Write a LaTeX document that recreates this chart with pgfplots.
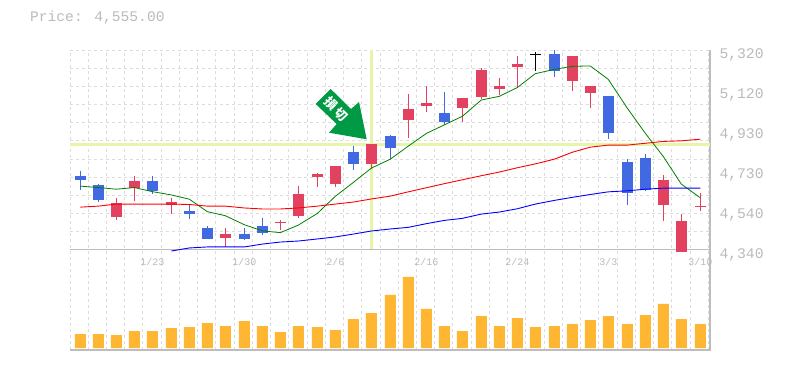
\documentclass[border=0pt]{standalone}
\usepackage{pgfplots}
\pgfplotsset{compat=1.18}
\usepackage{fontspec}
\setmainfont{Liberation Mono}
\newfontfamily\cjk{Noto Sans CJK JP}
\definecolor{txtgray}{HTML}{BBBBBB}
\definecolor{axgray}{HTML}{BDBDBD}
\definecolor{gridgray}{HTML}{DCDCDC}
\definecolor{hair}{HTML}{E5F6AB}
\definecolor{candred}{HTML}{E2425F}
\definecolor{candblue}{HTML}{4169E1}
\definecolor{volbar}{HTML}{FFB733}
\definecolor{arrowg}{HTML}{009944}
\definecolor{lineg}{HTML}{008000}
\begin{document}
\begin{tikzpicture}[x=1pt,y=1pt]
\path[fill=white] (0,0) rectangle (785,370);
% volume panel, carrying the vertical grid over the whole plot height
\begin{axis}[name=vol,at={(70pt,20pt)},anchor=south west,scale only axis,width=640pt,height=300pt,
  xmin=70,xmax=710,ymin=-2,ymax=298,
  axis line style={draw=none},
  ytick=\empty,
  xtick={70.3,88.3,106.3,124.3,142.7,161.3,179.3,197.3,215.3,234.3,252.3,270.3,288.3,307.3,325.3,343.3,361.3,380.3,398.3,416.3,434.3,452.3,471.3,489.3,507.3,525.3,544.3,562.3,580.3,598.3,617.3,635.3,653.3,671.3,690.3,708.3},
  xticklabels={},
  major tick length=0pt,
  xmajorgrids=true,
  major grid style={draw=gridgray,line width=1pt,dash pattern=on 3pt off 3pt},
  clip=false]
\addplot[ybar,bar width=11pt,fill=volbar,draw=none] coordinates {
(80.3,14)(98.3,14)(116.3,13)(134.3,17)(152.3,17)(171.3,20)(189.3,21)(207.3,25)(225.3,22)(244.3,27)(262.3,22)(280.3,16)(298.3,22)(317.3,21)(335.3,18)(353.3,29)(371.3,35)(390.3,53)
(408.3,71)(426.3,39)(444.3,22)(462.3,17)(481.3,32)(499.3,22)(517.3,30)(535.3,21)(554.3,22)(572.3,24)(590.3,28)(608.3,32)(627.3,24)(645.3,33)(663.3,44)(681.3,29)(700.3,24)};
\addplot[draw=axgray,line width=1.5pt] coordinates {(70,-2)(710,-2)(710,298)};
\end{axis}
% price panel
\begin{axis}[at={(70pt,120pt)},anchor=south west,scale only axis,width=640pt,height=200pt,
  xmin=70,xmax=710,ymin=4340,ymax=5320,
  axis line style={draw=none},
  xtick={152.3,244.3,335.3,426.3,517.3,608.3,700.3},
  xticklabels={1/23,1/30,2/6,2/16,2/24,3/3,3/10},
  ytick={4340,4536,4732,4928,5124,5320},
  yticklabels={{4,340},{4,540},{4,730},{4,930},{5,120},{5,320}},
  ytick pos=right,yticklabel pos=right,
  major tick length=0pt,minor tick length=0pt,
  xticklabel style={font=\fontsize{10}{10}\selectfont,text=txtgray,yshift=-5pt},
  yticklabel style={font=\fontsize{14.7}{15}\selectfont,text=txtgray,yshift=-5pt,xshift=6pt,anchor=west},
  minor ytick={4429.1,4518.2,4607.3,4696.4,4785.5,4874.5,4963.6,5052.7,5141.8,5230.9,5320},
  yminorgrids=true,
  minor grid style={draw=gridgray,line width=1pt,dash pattern=on 3pt off 3pt},
  clip=false,unbounded coords=jump]
\addplot[draw=axgray,line width=1pt] coordinates {(70,4340)(710,4340)};
\addplot[draw=hair,line width=3pt] coordinates {(70,4858)(710,4858)};
\addplot[draw=hair,line width=3pt] coordinates {(371.3,5320)(371.3,4343)};
% wicks
\addplot[draw=candblue,line width=1pt] table[row sep=\\] {x y\\
80.3 4728\\80.3 4632\\nan nan\\98.3 4665\\98.3 4573\\nan nan\\152.3 4704\\152.3 4612\\nan nan\\189.3 4562\\189.3 4490\\nan nan\\207.3 4459\\207.3 4392\\nan nan\\244.3 4449\\244.3 4391\\nan nan\\262.3 4498\\262.3 4412\\nan nan\\353.3 4850\\353.3 4730\\nan nan\\390.3 4904\\390.3 4785\\nan nan\\444.3 5115\\444.3 4953\\nan nan\\554.3 5320\\554.3 5190\\nan nan\\608.3 5095\\608.3 4885\\nan nan\\627.3 4785\\627.3 4559\\nan nan\\645.3 4811\\645.3 4630\\
};
\addplot[draw=candred,line width=1pt] table[row sep=\\] {x y\\
116.3 4596\\116.3 4485\\nan nan\\134.3 4704\\134.3 4578\\nan nan\\171.3 4594\\171.3 4515\\nan nan\\225.3 4449\\225.3 4355\\nan nan\\280.3 4488\\280.3 4436\\nan nan\\298.3 4655\\298.3 4495\\nan nan\\317.3 4718\\317.3 4651\\nan nan\\335.3 4753\\335.3 4651\\nan nan\\371.3 4860\\371.3 4739\\nan nan\\408.3 5105\\408.3 4891\\nan nan\\426.3 5144\\426.3 5018\\nan nan\\462.3 5085\\462.3 4965\\nan nan\\481.3 5232\\481.3 5080\\nan nan\\499.3 5183\\499.3 5100\\nan nan\\517.3 5291\\517.3 5134\\nan nan\\572.3 5291\\572.3 5121\\nan nan\\590.3 5144\\590.3 5038\\nan nan\\663.3 4708\\663.3 4480\\nan nan\\681.3 4518\\681.3 4332\\nan nan\\700.3 4620\\700.3 4532\\
};
\addplot[draw=black,line width=1pt] coordinates {(535.3,5309)(535.3,5219)};
% bodies
\addplot[draw=candblue,line width=11pt] table[row sep=\\] {x y\\
80.3 4704\\80.3 4684\\nan nan\\98.3 4660\\98.3 4583\\nan nan\\152.3 4679\\152.3 4630\\nan nan\\189.3 4532\\189.3 4515\\nan nan\\207.3 4449\\207.3 4395\\nan nan\\244.3 4420\\244.3 4392\\nan nan\\262.3 4459\\262.3 4421\\nan nan\\353.3 4821\\353.3 4759\\nan nan\\390.3 4899\\390.3 4842\\nan nan\\444.3 5012\\444.3 4969\\nan nan\\554.3 5300\\554.3 5219\\nan nan\\608.3 5095\\608.3 4911\\nan nan\\627.3 4772\\627.3 4617\\nan nan\\645.3 4792\\645.3 4632\\
};
\addplot[draw=candred,line width=11pt] table[row sep=\\] {x y\\
116.3 4572\\116.3 4500\\nan nan\\134.3 4679\\134.3 4642\\nan nan\\171.3 4576\\171.3 4559\\nan nan\\225.3 4420\\225.3 4397\\nan nan\\280.3 4479\\280.3 4470\\nan nan\\298.3 4616\\298.3 4505\\nan nan\\317.3 4713\\317.3 4700\\nan nan\\335.3 4753\\335.3 4661\\nan nan\\371.3 4860\\371.3 4759\\nan nan\\408.3 5031\\408.3 4979\\nan nan\\426.3 5061\\426.3 5048\\nan nan\\462.3 5085\\462.3 5038\\nan nan\\481.3 5222\\481.3 5092\\nan nan\\499.3 5144\\499.3 5131\\nan nan\\517.3 5252\\517.3 5239\\nan nan\\572.3 5291\\572.3 5170\\nan nan\\590.3 5144\\590.3 5111\\nan nan\\663.3 4684\\663.3 4559\\nan nan\\681.3 4484\\681.3 4332\\nan nan\\700.3 4557\\700.3 4549\\
};
\addplot[draw=black,line width=1pt] coordinates {(529.8,5299)(540.8,5299)};
% moving averages
\addplot[draw=lineg,line width=0.8pt] coordinates {(80.3,4653)(98.3,4646)(116.3,4638)(134.3,4646)(152.3,4626)(171.3,4610)(189.3,4589)(207.3,4528)(225.3,4508)(244.3,4464)(262.3,4434)(280.3,4425)(298.3,4462)(317.3,4519)(335.3,4603)(353.3,4671)(371.3,4741)(390.3,4785)(408.3,4849)(426.3,4911)(444.3,4953)(462.3,4995)(481.3,5075)(499.3,5093)(517.3,5136)(535.3,5204)(554.3,5225)(572.3,5240)(590.3,5242)(608.3,5176)(627.3,5035)(645.3,4912)(663.3,4798)(681.3,4663)(700.3,4596)};
\addplot[draw=red,line width=0.9pt] coordinates {(80.3,4550)(98.3,4555)(116.3,4565)(134.3,4565)(152.3,4565)(171.3,4565)(189.3,4563)(207.3,4555)(225.3,4555)(244.3,4546)(262.3,4541)(280.3,4541)(298.3,4546)(317.3,4555)(335.3,4565)(353.3,4575)(371.3,4590)(390.3,4604)(408.3,4625)(426.3,4645)(444.3,4665)(462.3,4684)(481.3,4704)(499.3,4722)(517.3,4743)(535.3,4762)(554.3,4785)(572.3,4819)(590.3,4844)(608.3,4854)(627.3,4854)(645.3,4863)(663.3,4872)(681.3,4875)(700.3,4883)};
\addplot[draw=blue,line width=0.9pt] coordinates {(171.3,4335)(189.3,4350)(207.3,4355)(225.3,4355)(244.3,4355)(262.3,4369)(280.3,4379)(298.3,4384)(317.3,4394)(335.3,4404)(353.3,4418)(371.3,4433)(390.3,4443)(408.3,4451)(426.3,4469)(444.3,4485)(462.3,4495)(481.3,4516)(499.3,4526)(517.3,4542)(535.3,4565)(554.3,4583)(572.3,4598)(590.3,4612)(608.3,4625)(627.3,4630)(645.3,4638)(663.3,4643)(681.3,4643)(700.3,4643)};
\end{axis}
% annotation arrow
\fill[arrowg] (315.7,266) -- (330.7,281) -- (351,261) -- (359,268) -- (366.7,230.7) -- (329,237.3) -- (336.7,246) -- cycle;
\node[rotate=-45,text=white,inner sep=0pt,font=\cjk\bfseries\fontsize{12.5}{12.5}\selectfont] at (336.2,261) {損\hspace{2.5pt}切};
% title
\node[anchor=west,inner sep=0pt,text=txtgray,font=\fontsize{14.6}{15}\selectfont] at (30,352) {Price: 4,555.00};
\end{tikzpicture}
\end{document}
